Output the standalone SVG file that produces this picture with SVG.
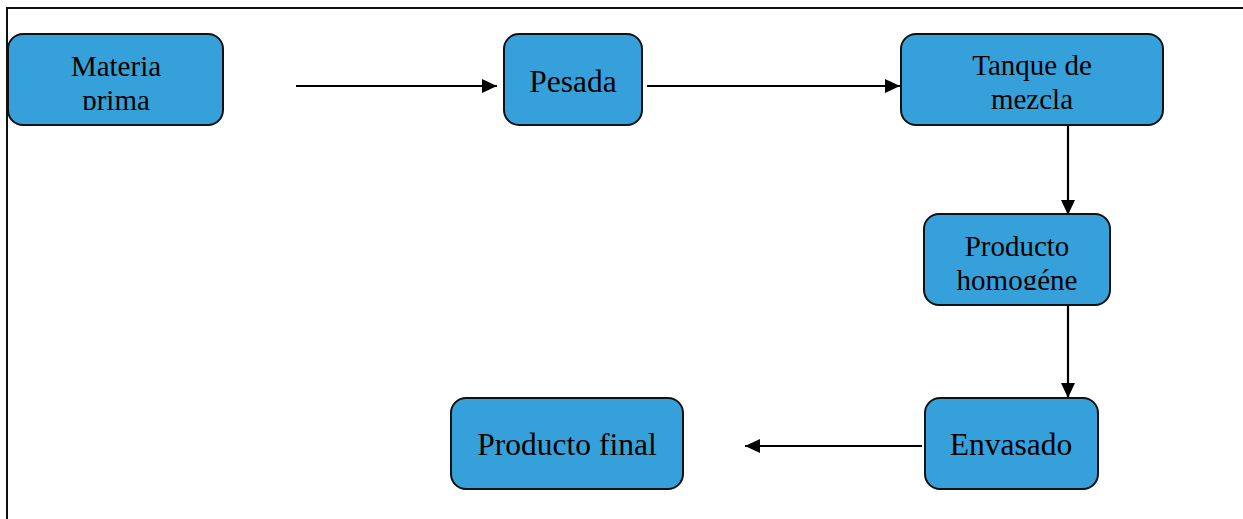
<svg xmlns="http://www.w3.org/2000/svg" width="1243" height="519" viewBox="0 0 1243 519">
<style>
.box{fill:#36A0DA;stroke:#111;stroke-width:2}
.t{font-family:"Liberation Serif","Times New Roman",serif;fill:#000;text-anchor:middle}
.t1{font-size:31.5px}
.t2{font-size:29px}
.c{stroke:#000;stroke-width:2.2;fill:none;marker-end:url(#ah)}
.frame{stroke:#111;stroke-width:2;fill:none}
</style>
<defs>
<marker id="ah" markerWidth="15" markerHeight="14" refX="15" refY="7" orient="auto" markerUnits="userSpaceOnUse">
<path d="M0,0 L15,7 L0,14 Z" fill="#000"/>
</marker>
<clipPath id="clipMP"><rect x="8" y="34" width="216" height="76"/></clipPath>
<clipPath id="clipPH"><rect x="924" y="214" width="187" height="76"/></clipPath>
</defs>
<rect width="1243" height="519" fill="#fff"/>
<path class="frame" d="M7,519 V8 H1243"/>
<g id="connectors">
<line class="c" x1="296" y1="86" x2="497" y2="86"/>
<line class="c" x1="647" y1="86" x2="900" y2="86"/>
<line class="c" x1="1068" y1="126" x2="1068" y2="215"/>
<line class="c" x1="1068" y1="306" x2="1068" y2="398"/>
<line class="c" x1="922" y1="446" x2="745" y2="446"/>
</g>
<g id="materia-prima">
<rect class="box" x="8" y="34" width="215" height="91" rx="15"/>
<g clip-path="url(#clipMP)">
<text class="t t2" x="116" y="76">Materia</text>
<text class="t t2" x="116" y="110">prima</text>
</g>
</g>
<g id="pesada">
<rect class="box" x="504" y="34" width="138" height="91" rx="15"/>
<text class="t t1" x="573" y="92">Pesada</text>
</g>
<g id="tanque">
<rect class="box" x="901" y="34" width="262" height="91" rx="15"/>
<text class="t t2" x="1032" y="75">Tanque de</text>
<text class="t t2" x="1032" y="109">mezcla</text>
</g>
<g id="producto-homogene">
<rect class="box" x="924" y="214" width="186" height="91" rx="15"/>
<g clip-path="url(#clipPH)">
<text class="t t2" x="1017" y="256">Producto</text>
<text class="t t2" x="1017" y="290">homogéne</text>
</g>
</g>
<g id="envasado">
<rect class="box" x="925" y="398" width="173" height="91" rx="15"/>
<text class="t t1" x="1011" y="455">Envasado</text>
</g>
<g id="producto-final">
<rect class="box" x="451" y="398" width="232" height="91" rx="15"/>
<text class="t t1" x="567" y="455">Producto final</text>
</g>
</svg>
